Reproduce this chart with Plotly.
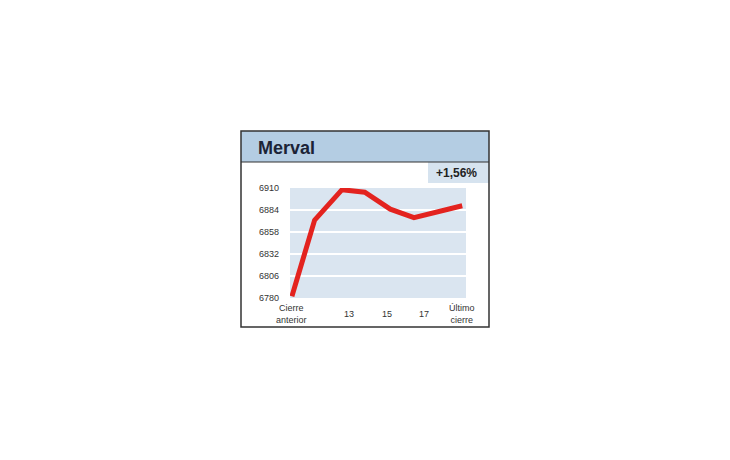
import plotly.graph_objects as go

# serie intradiaria del Merval
x_pts = [10, 11.2, 12.65, 13.85, 15.2, 16.45, 19]
y_pts = [6782, 6872, 6908, 6905, 6885, 6875, 6889]

y_ticks = [6780, 6806, 6832, 6858, 6884, 6910]
x_tickvals = [10, 13, 15, 17, 19]
x_ticktext = ["Cierre<br>anterior", "13", "15", "17", "Último<br>cierre"]

titulo = "Merval"
variacion = "+1,56%"

# area del grafico en pixeles (coordenadas de la pagina)
L, R, T, B = 290, 466, 188, 298
W, H = 730, 460
OFF = 8  # margen del body en la pagina


def px_x(p):
    return (p - L) / (R - L)


def px_y(p):
    return (B - p) / (B - T)


fnt = "Liberation Sans Narrow, Arial Narrow, Liberation Sans, Arial, sans-serif"

fig = go.Figure()
fig.add_trace(go.Scatter(x=x_pts, y=y_pts, mode="lines",
                         line=dict(color="#e3231f", width=5), hoverinfo="skip"))

fig.update_layout(
    width=W, height=H,
    margin=dict(l=L - OFF, r=W - (R - OFF), t=T - OFF, b=H - (B - OFF), pad=0),
    paper_bgcolor="white", plot_bgcolor="#dae5f0",
    showlegend=False,
    font=dict(family=fnt, size=9, color="#333333"),
)
fig.update_yaxes(range=[6780, 6910], tickvals=y_ticks, showgrid=True,
                 gridcolor="white", gridwidth=1.5, zeroline=False,
                 ticklabelstandoff=10, tickfont=dict(size=9, color="#333333"),
                 fixedrange=True)
fig.update_xaxes(range=[9.9, 19.2], showticklabels=False, showgrid=False,
                 zeroline=False, fixedrange=True)

# etiquetas del eje x
for xv, tx in zip(x_tickvals, x_ticktext):
    fig.add_annotation(x=xv, y=px_y(314), xref="x", yref="paper", text=tx,
                       showarrow=False, yanchor="middle", xanchor="center",
                       font=dict(family=fnt, size=9, color="#333333"))

# cabecera y marco
fig.add_shape(type="rect", xref="paper", yref="paper",
              x0=px_x(241), x1=px_x(489), y0=px_y(162), y1=px_y(131),
              fillcolor="#b4cde3", line_width=0, layer="below")
fig.add_shape(type="rect", xref="paper", yref="paper",
              x0=px_x(428), x1=px_x(489), y0=px_y(183), y1=px_y(162),
              fillcolor="#d6e3ef", line_width=0, layer="below")
fig.add_shape(type="line", xref="paper", yref="paper",
              x0=px_x(241), x1=px_x(489), y0=px_y(162), y1=px_y(162),
              line=dict(color="#333333", width=1.2))
fig.add_shape(type="rect", xref="paper", yref="paper",
              x0=px_x(241), x1=px_x(489), y0=px_y(327), y1=px_y(131),
              line=dict(color="#333333", width=1.5))

fig.add_annotation(x=px_x(256), y=px_y(148), xref="paper", yref="paper",
                   text="<b>" + titulo + "</b>", showarrow=False,
                   xanchor="left", yanchor="middle",
                   font=dict(family="Liberation Sans, Arial, sans-serif",
                             size=18, color="#1b2336"))
fig.add_annotation(x=px_x(479), y=px_y(173), xref="paper", yref="paper",
                   text="<b>" + variacion + "</b>", showarrow=False,
                   xanchor="right", yanchor="middle",
                   font=dict(family="Liberation Sans, Arial, sans-serif",
                             size=12, color="#222222"))

fig.write_html("out.html")
